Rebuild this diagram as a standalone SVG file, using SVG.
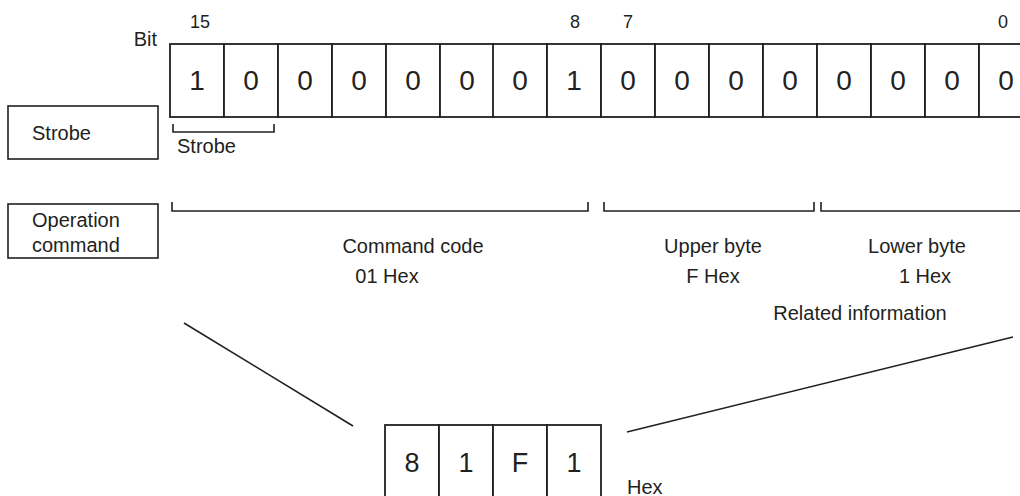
<svg xmlns="http://www.w3.org/2000/svg" width="1020" height="496" viewBox="0 0 1020 496">
<style>
text{font-family:"Liberation Sans",Arial,sans-serif;fill:#231f20}
.lbl{font-size:20px}
.num{font-size:18px;text-anchor:middle}
.dig{font-size:28px;text-anchor:middle}
.c{text-anchor:middle}
.box{fill:#fff;stroke:#231f20;stroke-width:1.6}
.cell{fill:#fff;stroke:#231f20;stroke-width:1.8}
.ln{fill:none;stroke:#231f20;stroke-width:1.6}
</style>
<rect width="1020" height="496" fill="#fff"/>
<g id="bit-labels">
<text class="lbl" x="157" y="46" text-anchor="end">Bit</text>
<text class="num" x="200" y="28">15</text>
<text class="num" x="575" y="28">8</text>
<text class="num" x="628" y="28">7</text>
<text class="num" x="1003" y="28">0</text>
</g>
<g id="register">
<rect class="cell" x="170" y="44" width="54" height="73"/>
<rect class="cell" x="224" y="44" width="54" height="73"/>
<rect class="cell" x="278" y="44" width="54" height="73"/>
<rect class="cell" x="332" y="44" width="54" height="73"/>
<rect class="cell" x="386" y="44" width="54" height="73"/>
<rect class="cell" x="440" y="44" width="54" height="73"/>
<rect class="cell" x="493" y="44" width="54" height="73"/>
<rect class="cell" x="547" y="44" width="54" height="73"/>
<rect class="cell" x="601" y="44" width="54" height="73"/>
<rect class="cell" x="655" y="44" width="54" height="73"/>
<rect class="cell" x="709" y="44" width="54" height="73"/>
<rect class="cell" x="763" y="44" width="54" height="73"/>
<rect class="cell" x="817" y="44" width="54" height="73"/>
<rect class="cell" x="871" y="44" width="54" height="73"/>
<rect class="cell" x="925" y="44" width="54" height="73"/>
<rect class="cell" x="979" y="44" width="54" height="73"/>
<text class="dig" x="197" y="90">1</text>
<text class="dig" x="251" y="90">0</text>
<text class="dig" x="305" y="90">0</text>
<text class="dig" x="359" y="90">0</text>
<text class="dig" x="413" y="90">0</text>
<text class="dig" x="467" y="90">0</text>
<text class="dig" x="520" y="90">0</text>
<text class="dig" x="574" y="90">1</text>
<text class="dig" x="628" y="90">0</text>
<text class="dig" x="682" y="90">0</text>
<text class="dig" x="736" y="90">0</text>
<text class="dig" x="790" y="90">0</text>
<text class="dig" x="844" y="90">0</text>
<text class="dig" x="898" y="90">0</text>
<text class="dig" x="952" y="90">0</text>
<text class="dig" x="1006" y="90">0</text>
</g>
<g id="strobe-box">
<rect class="box" x="8" y="106" width="150" height="53"/>
<text class="lbl" x="32" y="140">Strobe</text>
</g>
<g id="operation-box">
<rect class="box" x="8" y="204" width="150" height="54"/>
<text class="lbl" x="32" y="227">Operation</text>
<text class="lbl" x="32" y="252">command</text>
</g>
<g id="connectors">
<path class="ln" d="M173,124V132H274V124"/>
<path class="ln" d="M172,202V211H588V202"/>
<path class="ln" d="M604,202V211H814V202"/>
<path class="ln" d="M821,202V211H1022"/>
<line class="ln" x1="184" y1="323" x2="353" y2="426"/>
<line class="ln" x1="627" y1="432" x2="1013" y2="337"/>
</g>
<g id="field-labels">
<text class="lbl" x="177" y="153">Strobe</text>
<text class="lbl c" x="413" y="253">Command code</text>
<text class="lbl c" x="387" y="283">01 Hex</text>
<text class="lbl c" x="713" y="253">Upper byte</text>
<text class="lbl c" x="713" y="283">F Hex</text>
<text class="lbl c" x="917" y="253">Lower byte</text>
<text class="lbl c" x="925" y="283">1 Hex</text>
<text class="lbl c" x="860" y="320">Related information</text>
</g>
<g id="hex-register">
<rect class="cell" x="385" y="425" width="54" height="90"/>
<rect class="cell" x="439" y="425" width="54" height="90"/>
<rect class="cell" x="493" y="425" width="54" height="90"/>
<rect class="cell" x="547" y="425" width="54" height="90"/>
<text class="dig" x="412" y="472" style="font-size:27px">8</text>
<text class="dig" x="466" y="472" style="font-size:27px">1</text>
<text class="dig" x="520" y="472" style="font-size:27px">F</text>
<text class="dig" x="574" y="472" style="font-size:27px">1</text>
<text class="lbl" x="627" y="494">Hex</text>
</g>
</svg>
